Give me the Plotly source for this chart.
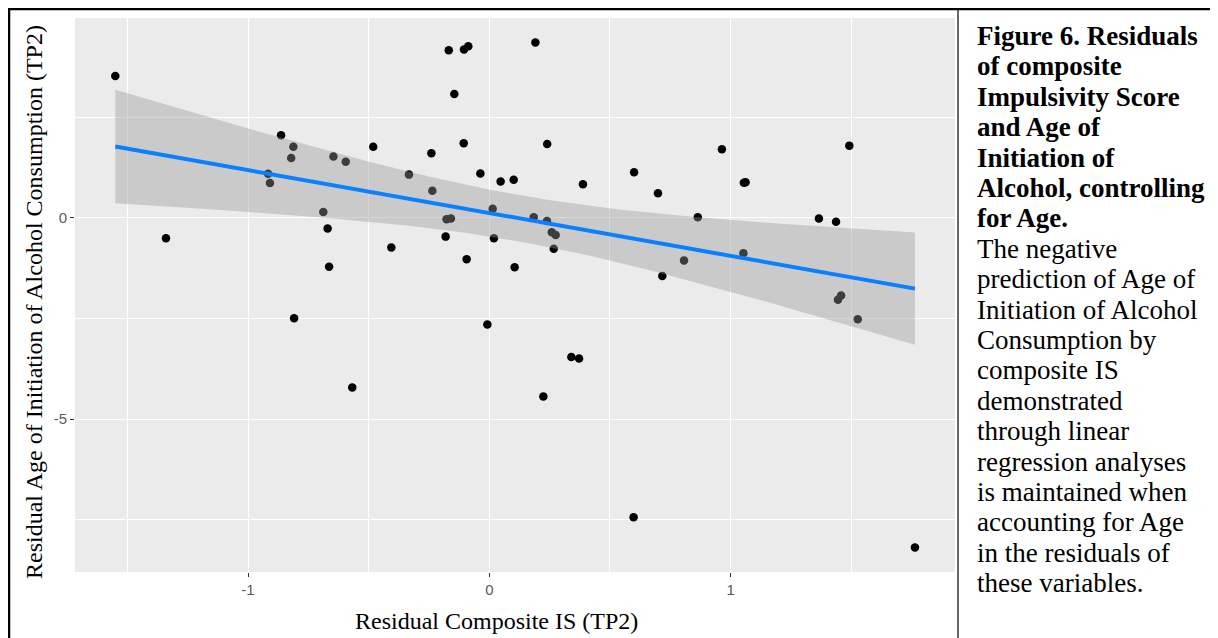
import numpy as np
import plotly.graph_objects as go

# ---- data ----
res_is = [-1.550, -1.340, -0.863, -0.812, -0.821, -0.917, -0.909, -0.646, -0.595, -0.481,
          -0.688, -0.670, -0.664, -0.406, -0.333, -0.240, -0.236, -0.168, -0.105, -0.087,
          -0.145, -0.106, -0.037, 0.047, 0.101, 0.014, -0.177, -0.159, -0.181, 0.019,
          -0.094, 0.105, 0.191, 0.240, 0.388, 0.600, 0.699, 0.964, 1.055, 1.062,
          0.184, 0.239, 0.259, 0.275, 0.267, 0.864, 0.807, 0.717, 1.053, 1.492,
          1.366, 1.437, 1.445, 1.458, 1.527, 1.764, -0.809, -0.568, -0.008, 0.340,
          0.372, 0.224, 0.598]
res_age = [3.52, -0.51, 2.05, 1.76, 1.48, 1.09, 0.86, 1.52, 1.39, 1.76,
           0.14, -0.27, -1.22, -0.74, 1.07, 1.60, 0.67, 4.16, 4.18, 4.26,
           3.07, 1.85, 1.10, 0.90, 0.94, 0.22, -0.04, -0.02, -0.47, -0.51,
           -1.03, -1.23, 4.35, 1.83, 0.83, 1.13, 0.61, 1.70, 0.87, 0.88,
           0.01, -0.08, -0.36, -0.43, -0.77, 0.01, -1.06, -1.45, -0.88, 1.79,
           -0.02, -0.10, -2.04, -1.93, -2.52, -8.19, -2.50, -4.22, -2.65, -3.46,
           -3.50, -4.44, -7.44]

x_tick_vals = [-1, 0, 1]
x_tick_text = ["-1", "0", "1"]
x_minor_vals = [-1.5, -0.5, 0.5, 1.5]
y_tick_vals = [-5, 0]
y_tick_text = ["-5", "0"]
y_minor_vals = [-7.5, -2.5, 2.5]

x_title = "Residual Composite IS (TP2)"
y_title = "Residual Age of Initiation of Alcohol Consumption (TP2)"
caption_bold = ["Figure 6. Residuals", "of composite", "Impulsivity Score", "and Age of",
                "Initiation of", "Alcohol, controlling", "for Age."]
caption_plain = ["The negative", "prediction of Age of", "Initiation of Alcohol",
                 "Consumption by", "composite IS", "demonstrated", "through linear",
                 "regression analyses", "is maintained when", "accounting for Age",
                 "in the residuals of", "these variables."]

# ---- linear fit with 95% confidence band (like geom_smooth(method="lm")) ----
x = np.array(res_is)
y = np.array(res_age)
n = len(x)
b1, b0 = np.polyfit(x, y, 1)
xs = np.linspace(x.min(), x.max(), 80)
yhat = b0 + b1 * xs
resid = y - (b0 + b1 * x)
s = np.sqrt(np.sum(resid ** 2) / (n - 2))
sxx = np.sum((x - x.mean()) ** 2)
se = s * np.sqrt(1.0 / n + (xs - x.mean()) ** 2 / sxx)
tq = 2.0
upper = yhat + tq * se
lower = yhat - tq * se

# page body has an 8px margin; figure is sized so it ends at the window edge
OFF = 8
W, H = 1218 - OFF, 638 - OFF
def fx(p):
    return (p - OFF) / W
def fy(p):
    return 1 - (p - OFF) / H

fig = go.Figure()
fig.add_trace(go.Scatter(x=res_is, y=res_age, mode="markers",
                         marker=dict(color="black", size=8.5, line=dict(width=0)),
                         showlegend=False, hoverinfo="skip"))
fig.add_trace(go.Scatter(x=np.concatenate([xs, xs[::-1]]),
                         y=np.concatenate([upper, lower[::-1]]),
                         fill="toself", fillcolor="rgba(153,153,153,0.4)",
                         line=dict(width=0), mode="lines", showlegend=False,
                         hoverinfo="skip"))
fig.add_trace(go.Scatter(x=xs, y=yhat, mode="lines",
                         line=dict(color="#0a80ff", width=4),
                         showlegend=False, hoverinfo="skip"))

axis_common = dict(
    showline=False, zeroline=False, showgrid=True, gridcolor="white", gridwidth=1.3,
    ticks="outside", ticklen=4, tickwidth=1, tickcolor="#333333",
    tickfont=dict(family="Liberation Sans, Arial", size=15, color="#5a5a5a"),
)

fig.update_layout(
    width=W, height=H, autosize=False,
    margin=dict(l=0, r=0, t=0, b=0),
    paper_bgcolor="white", plot_bgcolor="#ebebeb",
    xaxis=dict(domain=[fx(75), fx(955)], range=[-1.717, 1.930],
               tickmode="array", tickvals=x_tick_vals, ticktext=x_tick_text,
               minor=dict(tickmode="array", tickvals=x_minor_vals, showgrid=True,
                          gridcolor="white", gridwidth=0.6, ticks=""),
               **axis_common),
    yaxis=dict(domain=[fy(572), fy(18)], range=[-8.80, 4.96],
               tickmode="array", tickvals=y_tick_vals, ticktext=y_tick_text,
               minor=dict(tickmode="array", tickvals=y_minor_vals, showgrid=True,
                          gridcolor="white", gridwidth=0.6, ticks=""),
               **axis_common),
)

serif = "Liberation Serif, Times New Roman, serif"
ann = [
    dict(text=x_title, x=fx(496), y=fy(621), xref="paper", yref="paper",
         xanchor="center", yanchor="middle", showarrow=False,
         font=dict(family=serif, size=24, color="black")),
    dict(text=y_title, x=fx(34), y=fy(302), xref="paper", yref="paper",
         xanchor="center", yanchor="middle", showarrow=False, textangle=-90,
         font=dict(family=serif, size=24, color="black")),
]
lines = [("<b>" + t + "</b>") for t in caption_bold] + caption_plain
for i, t in enumerate(lines):
    ann.append(dict(text=t, x=fx(975), y=fy(36 + 30.4 * i), xref="paper", yref="paper",
                    xanchor="left", yanchor="middle", showarrow=False,
                    font=dict(family=serif, size=27, color="black")))
fig.update_layout(annotations=ann)

shapes = [
    dict(type="line", xref="paper", yref="paper", x0=fx(8), x1=fx(1218), y0=fy(9), y1=fy(9),
         line=dict(color="black", width=2.5)),
    dict(type="line", xref="paper", yref="paper", x0=fx(9), x1=fx(9), y0=fy(8), y1=fy(638),
         line=dict(color="black", width=2.5)),
    dict(type="line", xref="paper", yref="paper", x0=fx(958), x1=fx(958), y0=fy(9), y1=fy(638),
         line=dict(color="black", width=1.2)),
]
fig.update_layout(shapes=shapes)

fig.write_html("out.html")
